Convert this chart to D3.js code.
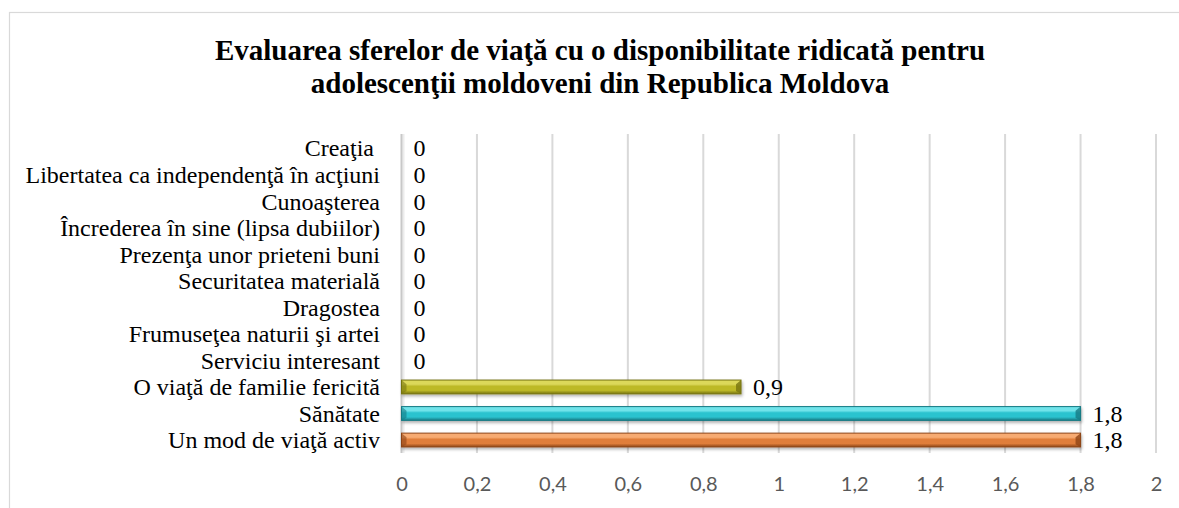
<!DOCTYPE html>
<html>
<head>
<meta charset="utf-8">
<script src="https://cdn.jsdelivr.net/npm/d3@7"></script>
<style>
html,body{margin:0;padding:0;background:#fff;}
svg{display:block;}
</style>
</head>
<body>
<svg id="chart" width="1179" height="508"></svg>
<script>
const titleLines = [
  "Evaluarea sferelor de viaţă cu o disponibilitate ridicată pentru",
  "adolescenţii moldoveni din Republica Moldova"
];
const categories = [
  "Creaţia ",
  "Libertatea ca independenţă în acţiuni",
  "Cunoaşterea",
  "Încrederea în sine (lipsa dubiilor)",
  "Prezenţa unor prieteni buni",
  "Securitatea materială",
  "Dragostea",
  "Frumuseţea naturii şi artei",
  "Serviciu interesant",
  "O viaţă de familie fericită",
  "Sănătate",
  "Un mod de viaţă activ"
];
const values = [0, 0, 0, 0, 0, 0, 0, 0, 0, 0.9, 1.8, 1.8];
const valueLabels = ["0","0","0","0","0","0","0","0","0","0,9","1,8","1,8"];
const tickValues = [0, 0.2, 0.4, 0.6, 0.8, 1, 1.2, 1.4, 1.6, 1.8, 2];
const tickLabels = ["0","0,2","0,4","0,6","0,8","1","1,2","1,4","1,6","1,8","2"];
// bar palettes: [light, mid, dark]
const barPalettes = {
  "O viaţă de familie fericită": ["#dcd85a", "#bdb928", "#777410"],
  "Sănătate": ["#6fe3ea", "#2cc3cf", "#167a84"],
  "Un mod de viaţă activ": ["#f7ab72", "#e07e3a", "#8e4517"]
};

const svg = d3.select("#chart");

// outer chart border
svg.append("rect").attr("x", 9.5).attr("y", 12.5).attr("width", 1300).attr("height", 700)
  .attr("fill", "#fff").attr("stroke", "#d9d9d9").attr("stroke-width", 1.2);

// title
svg.append("g").selectAll("text").data(titleLines).join("text")
  .attr("x", 600).attr("y", (d, i) => 60 + i * 33)
  .attr("text-anchor", "middle")
  .style("font-family", "'Liberation Serif', 'Times New Roman', serif")
  .style("font-weight", "bold").style("font-size", "29px").style("fill", "#000")
  .text(d => d);

const x = d3.scaleLinear().domain([0, 2]).range([401.5, 1156]);
const y = d3.scaleBand().domain(categories).range([134.8, 453.3]).paddingInner(0.48).paddingOuter(0.24);
const plotTop = 134, plotBottom = 453;

// gridlines
svg.append("g").selectAll("line").data(tickValues.slice(1)).join("line")
  .attr("x1", d => x(d)).attr("x2", d => x(d))
  .attr("y1", plotTop).attr("y2", plotBottom)
  .attr("stroke", "#d9d9d9").attr("stroke-width", 2);

// vertical axis line
svg.append("line").attr("x1", x(0) + 2).attr("x2", x(0) + 2).attr("y1", plotTop).attr("y2", plotBottom)
  .attr("stroke", "#ececec").attr("stroke-width", 2);
svg.append("line").attr("x1", x(0)).attr("x2", x(0)).attr("y1", plotTop).attr("y2", plotBottom)
  .attr("stroke", "#c8c8c8").attr("stroke-width", 2);

// x tick labels
const xAxis = d3.axisBottom(x).tickValues(tickValues).tickFormat((d, i) => tickLabels[i]).tickSize(0).tickPadding(0);
const gx = svg.append("g").attr("transform", `translate(0,${491})`).call(xAxis);
gx.select(".domain").remove();
gx.selectAll("text").attr("y", 0).attr("dy", 0)
  .style("font-family", "Lato, 'Open Sans', sans-serif").style("font-size", "20px").style("fill", "#595959");

// y category labels
svg.append("g").selectAll("text").data(categories).join("text")
  .attr("x", 380).attr("y", d => y(d) + y.bandwidth() / 2)
  .attr("dy", "0.35em").attr("text-anchor", "end")
  .attr("xml:space", "preserve").style("white-space", "pre")
  .style("font-family", "'Liberation Serif', 'Times New Roman', serif")
  .style("font-size", "24px").style("fill", "#000")
  .text(d => d);

// gradients
const defs = svg.append("defs");
Object.entries(barPalettes).forEach(([k, p], i) => {
  const g = defs.append("linearGradient").attr("id", "grad" + i).attr("x1", 0).attr("y1", 0).attr("x2", 0).attr("y2", 1);
  g.append("stop").attr("offset", "0%").attr("stop-color", p[0]);
  g.append("stop").attr("offset", "30%").attr("stop-color", p[0]);
  g.append("stop").attr("offset", "45%").attr("stop-color", p[1]);
  g.append("stop").attr("offset", "75%").attr("stop-color", p[1]);
  g.append("stop").attr("offset", "100%").attr("stop-color", p[2]);
});
const shadow = defs.append("filter").attr("id", "shadow").attr("x", "-5%").attr("y", "-50%").attr("width", "110%").attr("height", "200%");
shadow.append("feDropShadow").attr("dx", 1).attr("dy", 2).attr("stdDeviation", 1.5).attr("flood-color", "#000").attr("flood-opacity", 0.3);

const data = categories.map((c, i) => ({ c, v: values[i], lab: valueLabels[i] }));
const palKeys = Object.keys(barPalettes);
const bars = svg.append("g").selectAll("g").data(data.filter(d => d.v > 0)).join("g");
bars.append("rect")
  .attr("x", x(0)).attr("y", d => y(d.c))
  .attr("width", d => x(d.v) - x(0)).attr("height", y.bandwidth())
  .attr("fill", d => `url(#grad${palKeys.indexOf(d.c)})`)
  .attr("stroke", d => barPalettes[d.c][2]).attr("stroke-width", 1)
  .attr("filter", "url(#shadow)");
// right bevel end
bars.append("path")
  .attr("d", d => {
    const x1 = x(d.v), y0 = y(d.c), h = y.bandwidth();
    return `M${x1 - 5},${y0 + h * 0.3} L${x1},${y0} L${x1},${y0 + h} L${x1 - 5},${y0 + h * 0.8} Z`;
  })
  .attr("fill", d => barPalettes[d.c][2]).attr("opacity", 0.8);
// left bevel
bars.append("path")
  .attr("d", d => {
    const x0 = x(0), y0 = y(d.c), h = y.bandwidth();
    return `M${x0},${y0} L${x0 + 5},${y0 + h * 0.3} L${x0 + 5},${y0 + h * 0.8} L${x0},${y0 + h} Z`;
  })
  .attr("fill", d => barPalettes[d.c][2]).attr("opacity", 0.6);

// value labels
svg.append("g").selectAll("text").data(data).join("text")
  .attr("x", d => x(d.v) + 12).attr("y", d => y(d.c) + y.bandwidth() / 2)
  .attr("dy", "0.35em")
  .style("font-family", "'Liberation Serif', 'Times New Roman', serif")
  .style("font-size", "24px").style("fill", "#000")
  .text(d => d.lab);
</script>
</body>
</html>
